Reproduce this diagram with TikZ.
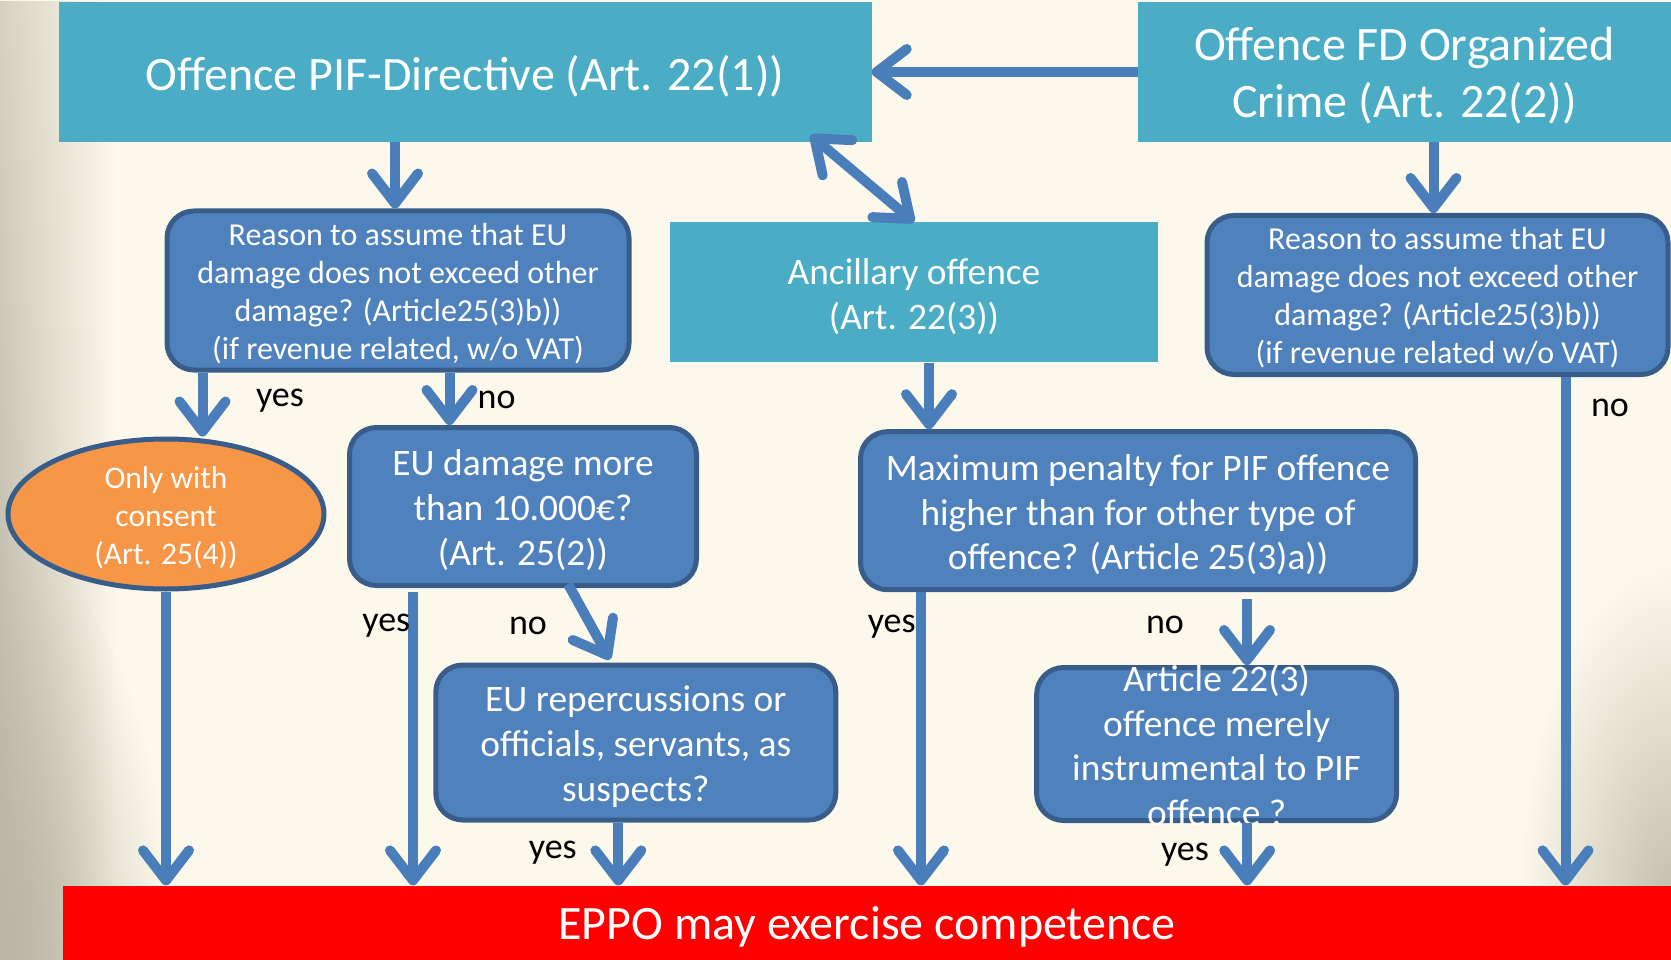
\documentclass[tikz,border=0pt]{standalone}
\usepackage{fontspec}
\setmainfont{Carlito}
\usetikzlibrary{arrows.meta,shapes.geometric,calc,fadings}
\definecolor{tealfill}{HTML}{4BACC6}
\definecolor{boxblue}{HTML}{4F81BD}
\definecolor{boxedge}{HTML}{385D8A}
\definecolor{arrowblue}{HTML}{4A7EBB}
\definecolor{orangefill}{HTML}{F79646}
\definecolor{cream}{HTML}{FCF9EC}
\definecolor{eppored}{HTML}{FF0000}
\definecolor{edgegray}{HTML}{C4C0B0}
\definecolor{edgetop}{HTML}{D6D2C3}
\definecolor{edgebot}{HTML}{BAB7A7}
\tikzfading[name=radfade, inner color=transparent!0, outer color=transparent!100]
\begin{document}
\begin{tikzpicture}[x=1pt,y=-1pt,
  barb/.tip={Straight Barb[length=30pt,width=46pt,round]},
  tealbox/.style={fill=tealfill, inner sep=0pt},
  bluebox/.style={fill=boxblue, draw=boxedge, line width=5pt, rounded corners=27pt, inner sep=0pt},
  boxtext/.style={text=white, align=center, inner sep=0pt},
  flow/.style={draw=arrowblue, line width=10pt, -barb},
  lbl/.style={font=\fontsize{36}{40}\selectfont, text=black, inner sep=0pt},
  txtbig/.style={font=\fontsize{48}{57}\selectfont},
  txtmid/.style={font=\fontsize{37.4}{44.8}\selectfont},
  txtsmall/.style={font=\fontsize{32}{38}\selectfont},
]
\useasboundingbox (0,0) rectangle (1671,960);
\fill[cream] (0,0) rectangle (1671,960);
\shade[top color=edgetop, bottom color=edgebot, path fading=east] (0,0) rectangle (115,960);
\fill[edgebot, path fading=radfade] (0,960) ellipse (170 and 420);
\fill[edgegray, path fading=radfade] (1671,900) ellipse (150 and 330);

% shapes
\node[tealbox, minimum width=813pt, minimum height=140pt] (pif) at (465,72) {};
\node[tealbox, minimum width=533pt, minimum height=140pt] (fd) at (1404.5,72) {};
\node[bluebox, minimum width=462pt, minimum height=159pt] (r1) at (398,290.5) {};
\node[tealbox, minimum width=488pt, minimum height=140pt] (anc) at (914,292.3) {};
\node[bluebox, minimum width=461pt, minimum height=159pt] (r2) at (1437.5,295) {};
\node[ellipse, fill=orangefill, draw=boxedge, line width=5pt, inner sep=0pt, minimum width=316pt, minimum height=150pt] (cons) at (166,514) {};
\node[bluebox, minimum width=347pt, minimum height=158pt] (eud) at (523,506.5) {};
\node[bluebox, minimum width=555pt, minimum height=158pt] (pen) at (1138,510.7) {};
\node[bluebox, minimum width=400pt, minimum height=155pt] (rep) at (635.8,742.5) {};
\node[bluebox, minimum width=360pt, minimum height=153pt] (art) at (1216.6,744) {};
\node[fill=eppored, minimum width=1608pt, minimum height=74.4pt, inner sep=0pt] (eppo) at (867,922.8) {};

% texts
\node[boxtext, txtbig] (pift) at ([yshift=-4pt]pif.center) {Offence PIF-Directive (Art. 22(1))};
\node[boxtext, txtbig] (fdt) at ([yshift=-4pt]fd.center) {Offence FD Organized\\Crime (Art. 22(2))};
\node[boxtext, txtsmall] (r1t) at ([yshift=-3pt]r1.center) {Reason to assume that EU\\damage does not exceed other\\damage? (Article25(3)b))\\(if revenue related, w/o VAT)};
\node[boxtext, txtmid] (anct) at ([yshift=-4pt]anc.center) {Ancillary offence\\(Art. 22(3))};
\node[boxtext, txtsmall] (r2t) at ([yshift=-3pt]r2.center) {Reason to assume that EU\\damage does not exceed other\\damage? (Article25(3)b))\\(if revenue related w/o VAT)};
\node[boxtext, font=\fontsize{31.5}{38}\selectfont] (const) at ([yshift=-4pt]cons.center) {Only with\\consent\\(Art. 25(4))};
\node[boxtext, txtmid] (eudt) at ([yshift=-3.5pt]eud.center) {EU damage more\\than 10.000€?\\(Art. 25(2))};
\node[boxtext, txtmid] (pent) at ([yshift=-4pt]pen.center) {Maximum penalty for PIF offence\\higher than for other type of\\offence? (Article 25(3)a))};
\node[boxtext, txtmid] (rept) at ([yshift=-4pt]rep.center) {EU repercussions or\\officials, servants, as\\suspects?};
\node[boxtext, txtmid] (artt) at ([yshift=-1pt]art.center) {Article 22(3)\\offence merely\\instrumental to PIF\\offence ?};
\node[boxtext, txtbig] (eppot) at ([yshift=-4pt]eppo.center) {EPPO may exercise competence};

% connectors
\draw[flow] (fd.west) -- (pif.east);
\draw[flow] ([xshift=-3pt]r1.north |- pif.south) -- ([xshift=-3pt]r1.north);
\draw[draw=arrowblue, line width=10pt, barb-barb] ([xshift=-61pt,yshift=7pt]pif.south east) -- (anc.north);
\draw[flow] ([xshift=-4pt]r2.north |- fd.south) -- ([xshift=-4pt]r2.north);
\draw[flow] ([xshift=38pt]r1.south west) -- ([xshift=38pt]r1.south west |- cons.north);
\draw[flow] ([xshift=51.5pt]r1.south) -- ([xshift=51.5pt]r1.south |- eud.north);
\draw[flow] ([xshift=15pt]anc.south) -- ([xshift=15pt]anc.south |- pen.north);
\draw[flow] (cons.south) -- (cons.south |- eppo.north);
\draw[flow] ([xshift=66pt,yshift=-4pt]eud.south west) -- ([xshift=66pt]eud.south west |- eppo.north);
\draw[flow] ([xshift=45pt,yshift=4pt]eud.south) -- ([xshift=-26pt,yshift=3pt]rep.north);
\draw[flow] ([xshift=-17.5pt]rep.south) -- ([xshift=-17.5pt]rep.south |- eppo.north);
\draw[flow] ([xshift=63pt]pen.south west) -- ([xshift=63pt]pen.south west |- eppo.north);
\draw[flow] ([xshift=109pt,yshift=-7pt]pen.south) -- ([xshift=109pt]pen.south |- art.north);
\draw[flow] ([xshift=30.6pt]art.south) -- ([xshift=30.6pt]art.south |- eppo.north);
\draw[flow] ([xshift=128pt]r2.south) -- ([xshift=128pt]r2.south |- eppo.north);

% labels
\node[lbl] (l1) at (280,401) {yes};
\node[lbl] (l2) at (496.6,400) {no};
\node[lbl] (l3) at (386.3,626) {yes};
\node[lbl] (l4) at (528,625.5) {no};
\node[lbl] (l5) at (552.8,852.5) {yes};
\node[lbl] (l6) at (891.7,626.5) {yes};
\node[lbl] (l7) at (1165,624.5) {no};
\node[lbl] (l8) at (1185,854.5) {yes};
\node[lbl] (l9) at (1610,408) {no};
\end{tikzpicture}
\end{document}
